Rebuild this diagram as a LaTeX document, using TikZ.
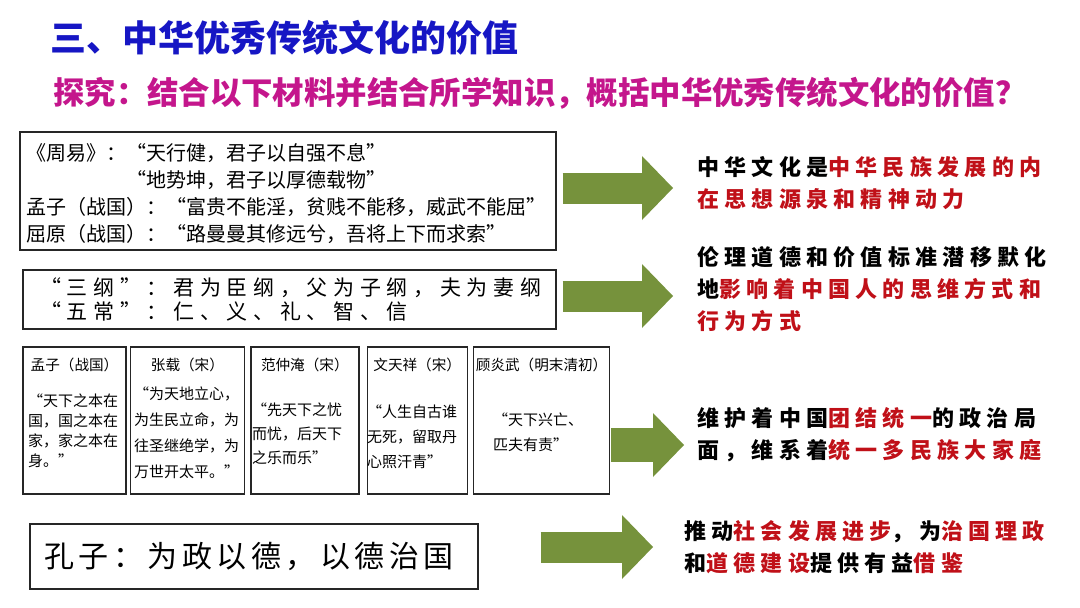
\documentclass[tikz,border=0pt]{standalone}
\usepackage{fontspec}
\setmainfont{Noto Sans CJK SC}
\newfontfamily\spacedfont[LetterSpace=24]{Noto Sans CJK SC}
\newfontfamily\widefont[LetterSpace=15]{Noto Sans CJK SC}
\newfontfamily\boxfont[LetterSpace=27]{Noto Sans CJK SC}
\usepackage{xcolor}
\usetikzlibrary{arrows.meta,positioning,calc}
\definecolor{titleblue}{RGB}{22,22,196}
\definecolor{subpink}{RGB}{196,22,140}
\definecolor{resred}{RGB}{192,16,24}
\definecolor{arrowgreen}{RGB}{118,146,60}
\newcommand{\hl}[1]{\textcolor{resred}{#1}}
\tikzset{
  srcbox/.style={rectangle, draw=black!85, line width=1.4pt, fill=white, inner sep=0pt},
  srctext/.style={align=left, inner sep=0pt, anchor=west},
  headtext/.style={font=\fontsize{14.6}{16}\selectfont, inner sep=0pt},
  bodytext/.style={align=left, inner sep=0pt, anchor=west},
  restext/.style={align=left, inner sep=0pt, anchor=west,
    font=\spacedfont\bfseries\fontsize{22}{32}\selectfont},
  bigarrow/.style={draw=arrowgreen, line width=31pt,
    -{Triangle[length=31pt,width=64pt,line width=0pt]}},
}

\begin{document}
\begin{tikzpicture}[x=1pt, y=-1pt]
  \fill[white] (0,0) rectangle (1080,608);
  \useasboundingbox (0,0) rectangle (1080,608);
  % headings
  \node[anchor=west, inner sep=0pt, text=titleblue,
    font=\bfseries\fontsize{36}{40}\selectfont] (title) at (50,38) {三、中华优秀传统文化的价值};
  \node[anchor=west, inner sep=0pt, text=subpink,
    font=\bfseries\fontsize{31.4}{36}\selectfont] (quest) at (53,93) {探究：结合以下材料并结合所学知识，概括中华优秀传统文化的价值？};
  % materials
  \node[srcbox, minimum width=536pt, minimum height=118pt] (box1) at (288,191) {};
  \node[srctext, font=\fontsize{20}{27}\selectfont] (src1) at (26,193.5)
    {《周易》：“天行健，君子以自强不息”\\\phantom{《周易》：}“地势坤，君子以厚德载物”\\孟子（战国）：“富贵不能淫，贫贱不能移，威武不能屈”\\屈原（战国）：“路曼曼其修远兮，吾将上下而求索”};
  \node[srcbox, minimum width=533pt, minimum height=59pt] (box2) at (289.5,299.5) {};
  \node[srctext, font=\boxfont\fontsize{21}{24}\selectfont] (src2) at (40,299)
    {“三纲”：君为臣纲，父为子纲，夫为妻纲\\“五常”：仁、义、礼、智、信};
  \node[srcbox, minimum width=103pt, minimum height=147pt] (boxA) at (74.5,420.5) {};
  \node[srcbox, minimum width=114pt, minimum height=147pt, right=3pt of boxA] (boxB) {};
  \node[srcbox, minimum width=108pt, minimum height=147pt, right=5pt of boxB] (boxC) {};
  \node[srcbox, minimum width=100pt, minimum height=147pt, right=7pt of boxC] (boxD) {};
  \node[srcbox, minimum width=136pt, minimum height=147pt, right=5pt of boxD] (boxE) {};
  \node[headtext] (hA) at ([yshift=-19pt]boxA.north) {孟子（战国）};
  \node[headtext] (hB) at ([yshift=-19pt]boxB.north) {张载（宋）};
  \node[headtext] (hC) at ([yshift=-19pt]boxC.north) {范仲淹（宋）};
  \node[headtext] (hD) at ([yshift=-19pt]boxD.north) {文天祥（宋）};
  \node[headtext] (hE) at ([yshift=-19pt]boxE.north) {顾炎武（明末清初）};
  \node[bodytext, font=\fontsize{15}{20}\selectfont] (tA) at (28,430.5)
    {“天下之本在\\国，国之本在\\家，家之本在\\身。”};
  \node[bodytext, font=\fontsize{15}{26}\selectfont] (tB) at (134,432.5)
    {“为天地立心，\\为生民立命，为\\往圣继绝学，为\\万世开太平。”};
  \node[bodytext, font=\fontsize{15}{24}\selectfont] (tC) at (252,434)
    {“先天下之忧\\而忧，后天下\\之乐而乐”};
  \node[bodytext, font=\fontsize{15}{25}\selectfont] (tD) at (367,437)
    {“人生自古谁\\无死，留取丹\\心照汗青”};
  \node[bodytext, font=\fontsize{15}{25}\selectfont] (tE) at (493,432.5)
    {“天下兴亡、\\匹夫有责”};
  \node[srcbox, minimum width=448pt, minimum height=65pt] (box4) at (254,556.5) {};
  \node[srctext, font=\widefont\fontsize{30}{34}\selectfont] (src4) at (44,556.5)
    {孔子：为政以德，以德治国};
  % conclusions
  \node[restext] (res1) at (697,183.5) {中华文化是\hl{中华民族发展的内}\\\hl{在思想源泉和精神动力}};
  \node[restext] (res2) at (697,289) {伦理道德和价值标准潜移默化\\地\hl{影响着中国人的思维方式和}\\\hl{行为方式}};
  \node[restext] (res3) at (697,434.5) {维护着中国\hl{团结统一}的政治局\\面，维系着\hl{统一多民族大家庭}};
  \node[restext] (res4) at (684,547) {推动\hl{社会发展进步}，为\hl{治国理政}\\和\hl{道德建设}提供有益\hl{借鉴}};
  % arrows
  \coordinate (tip1) at (673,188);
  \coordinate (tip2) at (673,296);
  \coordinate (tip3) at (684,445);
  \coordinate (tip4) at (653,547);
  \draw[bigarrow] ($(box1.east |- tip1)+(6,0)$) -- (tip1);
  \draw[bigarrow] ($(box2.east |- tip2)+(6,0)$) -- (tip2);
  \draw[bigarrow, line width=34pt] ($(boxE.east |- tip3)+(1,0)$) -- (tip3);
  \draw[bigarrow] ($(box4.east |- tip4)+(62,0)$) -- (tip4);
\end{tikzpicture}
\end{document}
